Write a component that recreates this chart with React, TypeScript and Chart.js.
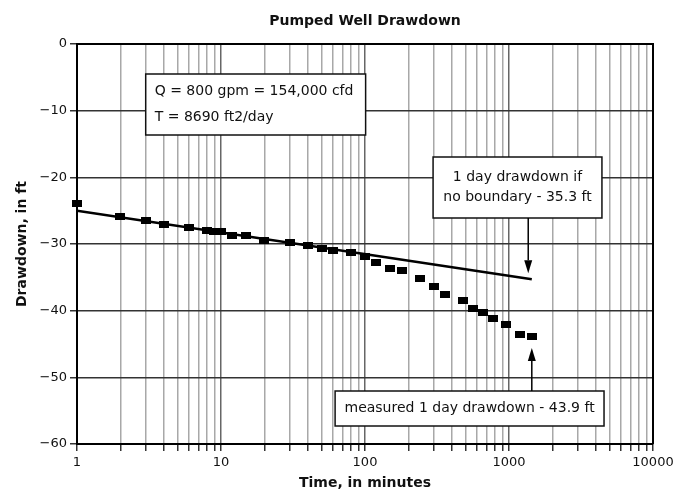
import React, { useEffect, useRef } from 'react';
import { Chart, registerables } from 'chart.js';

Chart.register(...registerables);

const chartTitle = 'Pumped Well Drawdown';
const xAxisTitle = 'Time, in minutes';
const yAxisTitle = 'Drawdown, in ft';

const timeMinutes = [1, 2, 3, 4, 6, 8, 9, 10, 12, 15, 20, 30, 40, 50, 60, 80, 100, 120, 150, 180, 240, 300, 360, 480, 560, 660, 780, 960, 1200, 1440];
const drawdownFt = [-23.9, -25.8, -26.4, -27.0, -27.5, -28.0, -28.05, -28.1, -28.7, -28.7, -29.4, -29.7, -30.2, -30.6, -31.0, -31.3, -31.9, -32.8, -33.7, -34.0, -35.2, -36.3, -37.5, -38.5, -39.7, -40.3, -41.1, -42.0, -43.6, -43.9];

const fitTimes = [1, 1440];
const fitDrawdowns = [-25.0, -35.3];

const xTickValues = [1, 2, 3, 4, 5, 6, 7, 8, 9, 10, 20, 30, 40, 50, 60, 70, 80, 90, 100, 200, 300, 400, 500, 600, 700, 800, 900, 1000, 2000, 3000, 4000, 5000, 6000, 7000, 8000, 9000, 10000];
const xTickLabels = [1, 10, 100, 1000, 10000];
const yTickValues = [0, -10, -20, -30, -40, -50, -60];

const infoLines = ['Q = 800 gpm = 154,000 cfd', 'T = 8690 ft2/day'];
const noBoundaryLines = ['1 day drawdown if', 'no boundary - 35.3 ft'];
const measuredLines = ['measured 1 day drawdown - 43.9 ft'];

// annotation boxes in data coordinates (time, drawdown)
const annotationBoxes = [
  { lines: infoLines, x0: 3.0, x1: 101, y0: -4.5, y1: -13.65, align: 'left', lineGap: 26 },
  { lines: noBoundaryLines, x0: 297, x1: 4420, y0: -16.95, y1: -26.1, align: 'center', lineGap: 20 },
  { lines: measuredLines, x0: 62, x1: 4570, y0: -52.05, y1: -57.3, align: 'center', lineGap: 20 },
];
const annotationArrows = [
  { x: 1360, from: -26.1, to: -34.4 },
  { x: 1440, from: -52.05, to: -45.6 },
];

const FONT = '"DejaVu Sans", Verdana, sans-serif';

const overlayPlugin = {
  id: 'overlay',
  afterDraw(chart: any) {
    const { ctx, chartArea: a, scales } = chart;
    const xs = scales.x;
    const ys = scales.y;
    ctx.save();
    ctx.strokeStyle = '#000';
    ctx.lineWidth = 2;
    ctx.beginPath();
    ctx.moveTo(a.left, a.top);
    ctx.lineTo(a.right, a.top);
    ctx.lineTo(a.right, a.bottom);
    ctx.stroke();

    ctx.font = '14px ' + FONT;
    annotationBoxes.forEach((b) => {
      const l = xs.getPixelForValue(b.x0);
      const r = xs.getPixelForValue(b.x1);
      const t = ys.getPixelForValue(b.y0);
      const bt = ys.getPixelForValue(b.y1);
      ctx.fillStyle = '#fff';
      ctx.fillRect(l, t, r - l, bt - t);
      ctx.lineWidth = 1.5;
      ctx.strokeStyle = '#111';
      ctx.strokeRect(l, t, r - l, bt - t);
      ctx.fillStyle = '#111';
      ctx.textBaseline = 'middle';
      ctx.textAlign = b.align;
      const cx = b.align === 'left' ? l + 9 : (l + r) / 2;
      const cy = (t + bt) / 2;
      b.lines.forEach((s, i) => {
        ctx.fillText(s, cx, cy + (i - (b.lines.length - 1) / 2) * b.lineGap);
      });
    });

    annotationArrows.forEach((ar) => {
      const x = xs.getPixelForValue(ar.x);
      const y0 = ys.getPixelForValue(ar.from);
      const y1 = ys.getPixelForValue(ar.to);
      const dir = y1 > y0 ? 1 : -1;
      const head = 13;
      ctx.strokeStyle = '#000';
      ctx.lineWidth = 1.5;
      ctx.beginPath();
      ctx.moveTo(x, y0);
      ctx.lineTo(x, y1 - dir * head);
      ctx.stroke();
      ctx.fillStyle = '#000';
      ctx.beginPath();
      ctx.moveTo(x, y1);
      ctx.lineTo(x - 4, y1 - dir * head);
      ctx.lineTo(x + 4, y1 - dir * head);
      ctx.closePath();
      ctx.fill();
    });
    ctx.restore();
  },
};

export default function App() {
  const ref = useRef<HTMLCanvasElement | null>(null);

  useEffect(() => {
    const canvas = ref.current;
    if (!canvas) return;
    const marker = document.createElement('canvas');
    marker.width = 10;
    marker.height = 7;
    const mctx = marker.getContext('2d');
    if (mctx) {
      mctx.fillStyle = '#000';
      mctx.fillRect(0, 0, 10, 7);
    }

    const measured = timeMinutes.map((t, i) => ({ x: t, y: drawdownFt[i] }));
    const fit = fitTimes.map((t, i) => ({ x: t, y: fitDrawdowns[i] }));

    const chart = new Chart(canvas, {
      type: 'scatter',
      data: {
        datasets: [
          {
            label: 'Measured',
            data: measured,
            pointStyle: marker as any,
            pointRadius: 5,
            showLine: false,
            clip: false,
          },
          {
            label: 'Fit',
            data: fit,
            showLine: true,
            borderColor: '#000',
            borderWidth: 2.5,
            pointRadius: 0,
          },
        ],
      },
      options: {
        responsive: false,
        animation: false,
        layout: { padding: { top: 0, right: 38, bottom: 0, left: 0 } },
        plugins: {
          legend: { display: false },
          tooltip: { enabled: false },
          title: {
            display: true,
            text: chartTitle,
            fullSize: false,
            color: '#111',
            font: { family: FONT, size: 14, weight: 'bold', lineHeight: 1.2 },
            padding: { top: 12.6, bottom: 14.6 },
          },
        },
        scales: {
          x: {
            type: 'logarithmic',
            min: 1,
            max: 10000,
            afterBuildTicks: (s: any) => {
              s.ticks = xTickValues.map((v) => ({ value: v }));
            },
            afterFit: (s: any) => {
              s.height = 51;
            },
            ticks: {
              autoSkip: false,
              maxRotation: 0,
              padding: 4,
              color: '#111',
              font: { family: FONT, size: 13 },
              callback: (v: any) => (xTickLabels.includes(Number(v)) ? String(v) : ''),
            },
            grid: {
              color: (c: any) => (c.tick && xTickLabels.includes(c.tick.value) ? '#666' : '#a8a8a8'),
              lineWidth: 1.5,
              tickLength: 7,
              tickColor: '#333',
              tickWidth: 1.5,
            },
            border: { display: true, color: '#000', width: 2 },
            title: {
              display: true,
              text: xAxisTitle,
              color: '#111',
              font: { family: FONT, size: 14, weight: 'bold', lineHeight: 1.2 },
              padding: { top: 0, bottom: 3.6 },
            },
          },
          y: {
            type: 'linear',
            min: -60,
            max: 0,
            afterBuildTicks: (s: any) => {
              s.ticks = yTickValues.map((v) => ({ value: v }));
            },
            afterFit: (s: any) => {
              s.width = 77;
            },
            ticks: {
              padding: 3,
              color: '#111',
              font: { family: FONT, size: 13 },
              callback: (v: any) => (Number(v) === 0 ? '0' : '\u2212' + Math.abs(Number(v))),
            },
            grid: {
              color: '#333',
              lineWidth: 1.5,
              tickLength: 7,
              tickColor: '#333',
            },
            border: { display: true, color: '#000', width: 2 },
            title: {
              display: true,
              text: yAxisTitle,
              color: '#111',
              font: { family: FONT, size: 14, weight: 'bold', lineHeight: 1.2 },
              padding: { top: 13.6, bottom: 0 },
            },
          },
        },
      },
      plugins: [overlayPlugin],
    } as any);

    return () => chart.destroy();
  }, []);

  return (
    <div style={{ position: 'fixed', left: 0, top: 0, width: 691, height: 495, background: '#fff' }}>
      <canvas ref={ref} width={691} height={495} style={{ display: 'block', width: 691, height: 495 }} />
    </div>
  );
}
